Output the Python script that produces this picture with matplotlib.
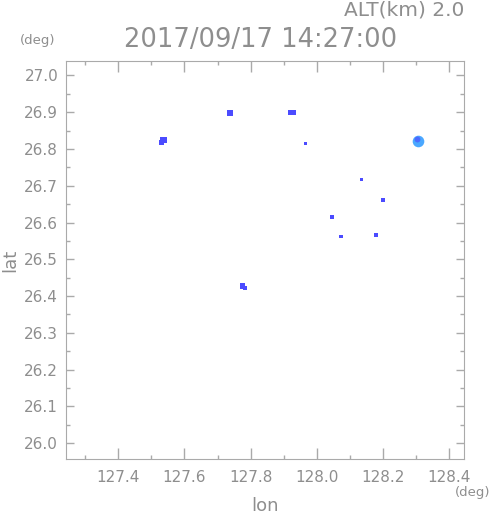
import matplotlib
matplotlib.use('Agg')
import matplotlib.pyplot as plt
from matplotlib.ticker import MultipleLocator

# echo cells (lon, lat)
lon = [127.536, 127.530, 127.738, 127.920, 127.928, 127.966, 128.135,
       128.200, 128.045, 128.073, 128.178, 127.775, 127.782]
lat = [26.824, 26.817, 26.897, 26.900, 26.900, 26.815, 26.717,
       26.661, 26.614, 26.563, 26.566, 26.428, 26.423]
size = [22, 12, 20, 14, 14, 5, 4, 10, 8, 5, 10, 16, 8]

# stronger echo (lighter colour)
lon2 = [128.305]
lat2 = [26.822]

title = '2017/09/17 14:27:00'
alt_label = 'ALT(km) 2.0'

grey = '#8e8e8e'
axgrey = '#aaaaaa'

fig = plt.figure(figsize=(4.91, 5.21), dpi=100)
ax = fig.add_axes([0.1354, 0.1196, 0.8086, 0.7633])

ax.scatter(lon, lat, s=size, marker='s', color='#4b4bff', linewidths=0)
ax.scatter(lon2, lat2, s=70, marker='o', color='#4aa8ff', linewidths=0)
ax.scatter([128.302], [26.826], s=18, marker='o', color='#4b6bff', linewidths=0)

ax.set_xlim(127.2435, 128.443)
ax.set_ylim(25.958, 27.039)

ax.xaxis.set_major_locator(MultipleLocator(0.2))
ax.xaxis.set_minor_locator(MultipleLocator(0.1))
ax.yaxis.set_major_locator(MultipleLocator(0.1))
ax.yaxis.set_minor_locator(MultipleLocator(0.05))
ax.xaxis.set_major_formatter(plt.FormatStrFormatter('%.1f'))
ax.yaxis.set_major_formatter(plt.FormatStrFormatter('%.1f'))

ax.tick_params(which='both', direction='in', top=True, right=True,
               color=axgrey, labelcolor=grey, labelsize=11, width=1)
ax.tick_params(axis='x', which='major', length=8, pad=8)
ax.tick_params(axis='x', which='minor', length=3)
ax.tick_params(axis='y', which='major', length=6, pad=6)
ax.tick_params(axis='y', which='minor', length=3)
for s in ax.spines.values():
    s.set_color(axgrey)

fig.text(0.54, 0.0115, 'lon', ha='center', va='bottom', color=grey, fontsize=13)
fig.text(0.02, 0.5, 'lat', ha='center', va='center', rotation=90,
         color=grey, fontsize=13)
fig.text(0.998, 0.054, '(deg)', ha='right', va='center', color=grey, fontsize=9.5)
fig.text(0.04, 0.923, '(deg)', ha='left', va='center', color=grey, fontsize=9.5)
fig.text(0.53, 0.923, title, ha='center', va='center', color=grey, fontsize=18.5)
fig.text(0.945, 0.98, alt_label, ha='right', va='center', color=grey, fontsize=14.5)

fig.savefig('out.png', dpi=100)
